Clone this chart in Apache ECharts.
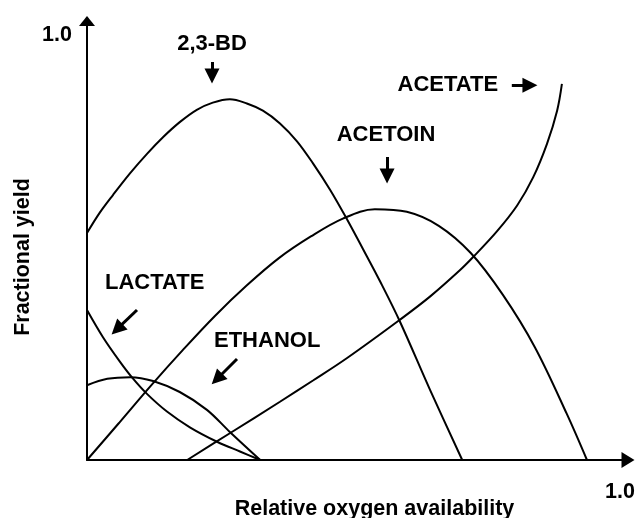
<!DOCTYPE html>
<html>
<head>
<meta charset="utf-8">
<title>Fractional yield vs oxygen</title>
<script src="https://cdn.jsdelivr.net/npm/echarts@6/dist/echarts.min.js"></script>
<style>
html,body{margin:0;padding:0;background:#fff;}
#chart{width:635px;height:518px;}
</style>
</head>
<body>
<div id="chart"></div>
<script>
'use strict';

// curves, [relative oxygen, fractional yield]
var bdData = [[0,0.534],[0.024,0.582],[0.049,0.624],[0.081,0.675],[0.113,0.721],[0.143,0.760],[0.174,0.795],[0.206,0.824],[0.236,0.841],[0.268,0.849],[0.300,0.839],[0.330,0.822],[0.362,0.792],[0.394,0.750],[0.424,0.698],[0.456,0.636],[0.488,0.566],[0.518,0.496],[0.550,0.420],[0.587,0.326],[0.644,0.164],[0.704,0]];
var acetoinData = [[0,0],[0.06,0.087],[0.12,0.175],[0.18,0.259],[0.24,0.339],[0.30,0.411],[0.36,0.475],[0.42,0.526],[0.48,0.568],[0.54,0.590],[0.60,0.584],[0.66,0.551],[0.72,0.487],[0.78,0.389],[0.84,0.266],[0.90,0.109],[0.938,0]];
var acetateData = [[0.188,0],[0.268,0.063],[0.362,0.137],[0.424,0.187],[0.488,0.240],[0.587,0.330],[0.644,0.385],[0.700,0.447],[0.724,0.477],[0.769,0.538],[0.807,0.599],[0.837,0.665],[0.863,0.744],[0.882,0.822],[0.891,0.885]];
var lactateData = [[0,0.353],[0.030,0.289],[0.062,0.231],[0.086,0.192],[0.113,0.155],[0.150,0.114],[0.193,0.077],[0.244,0.043],[0.287,0.020],[0.325,0]];
var ethanolData = [[0,0.176],[0.038,0.191],[0.081,0.195],[0.124,0.186],[0.174,0.160],[0.225,0.118],[0.268,0.066],[0.325,0]];

// the only tick label on each axis
var axisTickLabel = 1;

// annotation text and arrows (data coords)
var labelNames = ['2,3-BD','ACETOIN','ACETATE','LACTATE','ETHANOL'];
var labelCoords = [[0.2345,0.978],[0.561,0.765],[0.677,0.882],[0.127,0.416],[0.338,0.279]];
var arrowFrom = [[0.2345,0.9365],[0.563,0.713],[0.797,0.882],[0.0938,0.353],[0.2814,0.2376]];
var arrowTo = [[0.2345,0.9035],[0.563,0.668],[0.831,0.882],[0.0563,0.3078],[0.2439,0.1906]];

var FONT = '"Liberation Sans", Arial, Helvetica, sans-serif';

var myChart = echarts.init(document.getElementById('chart'), null, {renderer:'canvas'});

function curve(name, data){
    return {
        name: name,
        type: 'line',
        data: data,
        smooth: 0.35,
        showSymbol: false,
        silent: true,
        lineStyle: {color:'#000', width:2},
        itemStyle: {color:'#000'}
    };
}

var labelData = [];
for(var i=0;i<labelNames.length;i++){
    labelData.push({name:labelNames[i], coord:labelCoords[i]});
}
var arrowData = [];
for(var j=0;j<arrowFrom.length;j++){
    arrowData.push([{coord:arrowFrom[j]},{coord:arrowTo[j]}]);
}

var series = [
    curve('2,3-BD', bdData),
    curve('Acetoin', acetoinData),
    curve('Acetate', acetateData),
    curve('Lactate', lactateData),
    curve('Ethanol', ethanolData)
];
// annotations ride on an empty series
series.push({
    name: 'notes',
    type: 'line',
    data: [],
    silent: true,
    markPoint: {
        symbol: 'circle',
        symbolSize: 1,
        silent: true,
        itemStyle: {color:'rgba(0,0,0,0)'},
        label: {
            show: true,
            position: 'inside',
            formatter: '{b}',
            color: '#000',
            fontFamily: FONT,
            fontWeight: 'bold',
            fontSize: 22
        },
        data: labelData
    },
    markLine: {
        silent: true,
        symbol: ['none','triangle'],
        symbolSize: 15,
        label: {show:false},
        lineStyle: {color:'#000', width:3, type:'solid'},
        data: arrowData
    }
});

var option = {
    animation: false,
    backgroundColor: '#fff',
    grid: {
        left: 87,
        right: 7,
        top: 21,
        bottom: 58,
        containLabel: false,
        outerBoundsMode: 'none'
    },
    xAxis: {
        type: 'value',
        min: 0,
        max: 1.015,
        interval: 1,
        name: 'Relative oxygen availability',
        nameLocation: 'middle',
        nameGap: 38,
        nameMoveOverlap: false,
        nameTextStyle: {
            color:'#000', fontFamily:FONT, fontWeight:'bold', fontSize:21.5,
            padding:[0,0,0,34]
        },
        axisLine: {
            show: true,
            symbol: ['none','triangle'],
            symbolSize: [16,13],
            lineStyle: {color:'#000', width:2}
        },
        axisTick: {show:false},
        splitLine: {show:false},
        axisLabel: {
            margin: 21,
            color: '#000',
            fontFamily: FONT,
            fontWeight: 'bold',
            fontSize: 21.5,
            formatter: function(v){ return v === axisTickLabel ? '1.0' : ''; }
        }
    },
    yAxis: {
        type: 'value',
        min: 0,
        max: 1.033,
        interval: 1,
        name: 'Fractional yield',
        nameLocation: 'middle',
        nameGap: 52.5,
        nameMoveOverlap: false,
        nameTextStyle: {
            color:'#000', fontFamily:FONT, fontWeight:'bold', fontSize:21.5,
            padding:[0,33,0,0]
        },
        axisLine: {
            show: true,
            symbol: ['none','triangle'],
            symbolSize: [16,10],
            lineStyle: {color:'#000', width:2}
        },
        axisTick: {show:false},
        splitLine: {show:false},
        axisLabel: {
            margin: 15,
            color: '#000',
            fontFamily: FONT,
            fontWeight: 'bold',
            fontSize: 21.5,
            formatter: function(v){ return v === axisTickLabel ? '1.0' : ''; }
        }
    },
    series: series
};

myChart.setOption(option, true);
</script>
</body>
</html>
